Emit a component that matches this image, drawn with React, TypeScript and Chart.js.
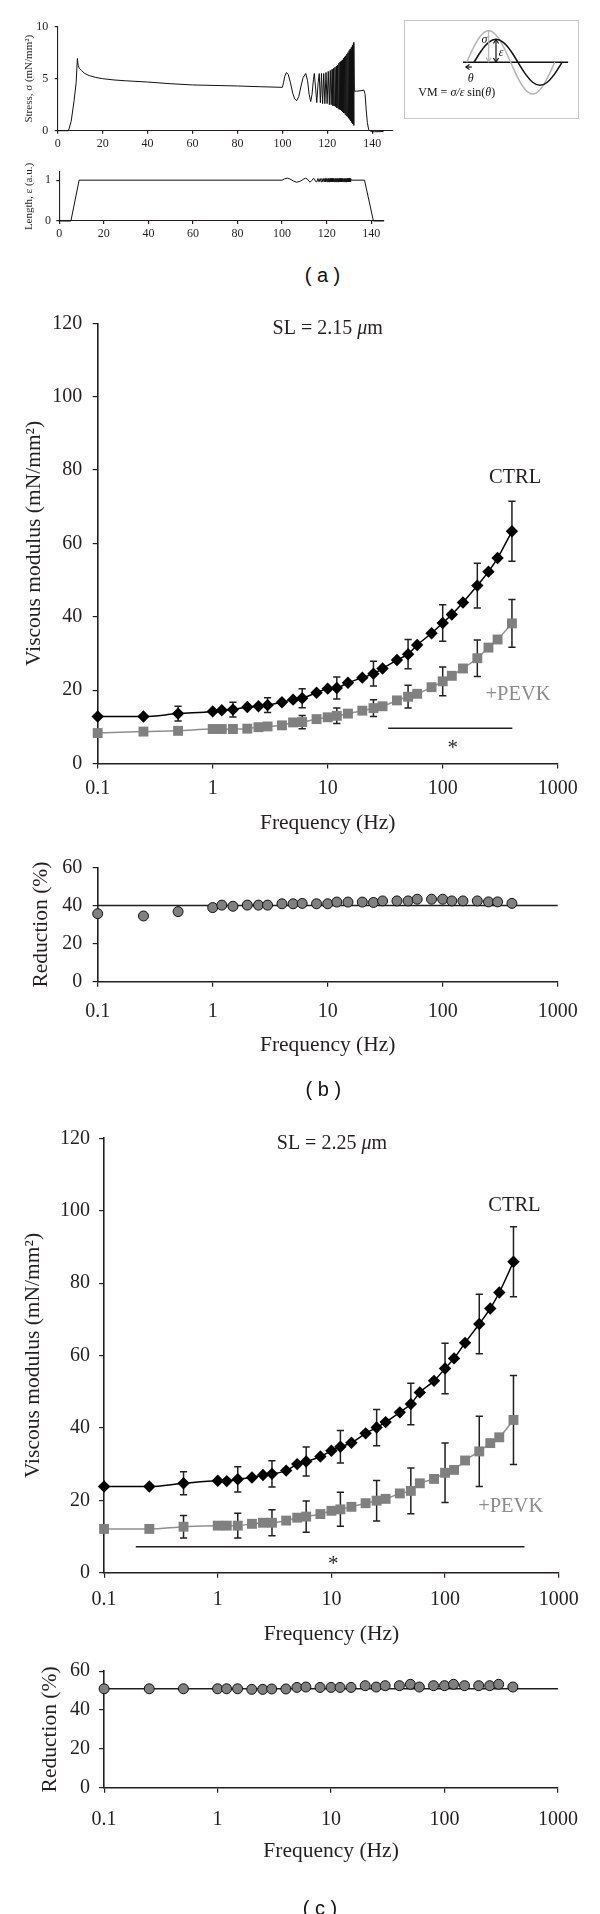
import React, { useEffect, useRef } from "react";
import { Chart, registerables } from "chart.js";

Chart.register(...registerables);

const SERIF = '"Liberation Serif", "Times New Roman", Times, serif';
const SANS = '"Liberation Sans", Arial, Helvetica, sans-serif';
const INK = "#231f20";
const MARK_GRAY = "#808080";
const LINE_GRAY = "#8f8f8f";
const TEXT_GRAY = "#8c8c8c";

// ---------------- DATA: panel (a) ----------------
const stressTime = [
  0, 4.8, 6, 7.3, 8.2, 8.75, 9.1, 9.6, 10.5, 12, 14, 17, 20, 25, 30, 40, 50, 60, 70, 80, 90, 100,
  100.5, 101, 101.8, 102.6, 103.6, 104.6, 105.5, 106.4, 107.3, 108.2, 109.2, 110.4, 111.2, 111.9, 112.6, 113.2, 113.8, 114.2, 114.7, 115.3,
  115.9, 116.4, 116.9, 117.4, 117.9, 118.4, 118.9, 119.4, 119.9, 120.4, 120.9, 121.3, 121.7, 122.1, 122.5, 122.8, 123.1, 123.4, 123.7, 124.0, 124.3, 124.6, 124.9,
  125.15, 125.4, 125.65, 125.9, 126.15, 126.4, 126.65, 126.9, 127.15, 127.4, 127.65, 127.9, 128.15, 128.4, 128.65, 128.9, 129.15, 129.4, 129.65, 129.9, 130.15, 130.4, 130.65, 130.9, 131.15, 131.4, 131.6, 131.75, 131.85,
  132.0, 133, 135, 136.3, 136.8, 137.3, 137.8, 138.4, 139.2, 141, 145,
];
const stressValue = [
  0, 0, 0.9, 2.9, 4.6, 6.95, 6.3, 6.0, 5.8, 5.5, 5.3, 5.12, 5.0, 4.88, 4.8, 4.68, 4.52, 4.4, 4.35, 4.3, 4.23, 4.17,
  4.6, 5.2, 5.6, 5.4, 4.6, 3.6, 3.05, 2.9, 3.3, 4.2, 5.1, 5.5, 4.8, 3.5, 2.8, 3.5, 4.9, 5.5, 4.3, 2.7,
  4.6, 5.5, 2.7, 5.5, 2.6, 5.5, 2.6, 5.6, 2.6, 5.7, 2.5, 5.8, 2.5, 5.9, 2.4, 6.0, 2.4, 6.1, 2.3, 6.2, 2.2, 6.3, 2.1,
  6.5, 2.05, 6.6, 2.0, 6.7, 1.9, 6.8, 1.8, 6.95, 1.7, 7.1, 1.55, 7.2, 1.45, 7.35, 1.35, 7.5, 1.2, 7.7, 1.1, 7.85, 0.95, 8.0, 0.8, 8.2, 0.65, 8.4, 0.5, 8.5,
  3.8, 3.8, 3.85, 3.9, 3.5, 2.0, 0.8, 0.1, -0.05, -0.1, -0.08,
];
const stressTimeTicks = [0, 20, 40, 60, 80, 100, 120, 140];
const stressTicks = [0, 5, 10];

const lengthTime = [
  0, 5.2, 8.9, 100, 101, 102.3, 103.5, 105, 106.5, 108, 109.5, 110.5, 111.3, 112, 112.6, 113.3, 114, 114.5, 115, 115.6,
  116.1, 116.6, 117.1, 117.5, 117.9, 118.3, 118.7, 119.0, 119.3, 119.6, 119.9, 120.2, 120.5,
  120.7, 120.9, 121.1, 121.3, 121.5, 121.7, 121.9, 122.1, 122.3, 122.5, 122.7, 122.9, 123.1, 123.3, 123.5, 123.7, 123.9, 124.1, 124.3, 124.5,
  124.7, 124.9, 125.1, 125.3, 125.5, 125.7, 125.9, 126.1, 126.3, 126.5, 126.7, 126.9, 127.1, 127.3, 127.5, 127.7, 127.9, 128.1, 128.3, 128.5,
  128.7, 128.9, 129.1, 129.3, 129.5, 129.7, 129.9, 130.1, 130.3, 130.5, 130.7, 130.9,
  131.1, 137, 141, 145.7,
];
const lengthValue = [
  0, 0, 1, 1, 1.03, 1.05, 1.03, 0.98, 0.95, 0.97, 1.02, 1.05, 1.03, 0.98, 0.95, 0.99, 1.04, 1.03, 0.97, 0.96,
  1.04, 0.96, 1.04, 0.96, 1.04, 0.96, 1.04, 0.96, 1.04, 0.96, 1.04, 0.96, 1.04,
  0.96, 1.04, 0.96, 1.04, 0.96, 1.04, 0.96, 1.04, 0.96, 1.04, 0.96, 1.04, 0.96, 1.04, 0.96, 1.04, 0.96, 1.04, 0.96, 1.04,
  0.96, 1.04, 0.96, 1.04, 0.96, 1.04, 0.96, 1.04, 0.96, 1.04, 0.96, 1.04, 0.96, 1.04, 0.96, 1.04, 0.96, 1.04, 0.96, 1.04,
  0.96, 1.04, 0.96, 1.04, 0.96, 1.04, 0.96, 1.04, 0.96, 1.04, 0.96, 1.04,
  1, 1, 0, 0,
];
const lengthTicks = [0, 1];

// inset schematic (phase in degrees, relative amplitude)
const insetStrainPhase = [0, 30, 60, 90, 120, 150, 180, 210, 240, 270, 300, 330, 360];
const insetStrain = [0, 0.365, 0.632, 0.73, 0.632, 0.365, 0, -0.365, -0.632, -0.73, -0.632, -0.365, 0];
const insetStressPhase = [-30, 0, 30, 60, 90, 120, 150, 180, 210, 240, 270, 300, 330];
const insetStress = [0, 0.5, 0.866, 1, 0.866, 0.5, 0, -0.5, -0.866, -1, -0.866, -0.5, 0];
const insetAxisPhase = [-45, 385];

// ---------------- DATA: panels (b) and (c) ----------------
const frequencyHz = [0.1, 0.25, 0.5, 1, 1.2, 1.5, 2, 2.5, 3, 4, 5, 6, 8, 10, 12, 15, 20, 25, 30, 40, 50, 60, 80, 100, 120, 150, 200, 250, 300, 400];
const frequencyTicks = [0.1, 1, 10, 100, 1000];
const modulusTicks = [0, 20, 40, 60, 80, 100, 120];
const reductionTicks = [0, 20, 40, 60];

// SL = 2.15 um
const ctrl215 = [12.8, 12.8, 13.6, 14.2, 14.5, 14.7, 15.4, 15.6, 15.9, 16.7, 17.4, 17.8, 19.3, 20.4, 20.6, 22.0, 23.4, 24.5, 25.9, 28.2, 29.8, 32.3, 35.5, 38.3, 40.6, 43.9, 48.5, 52.3, 56.0, 63.3];
const ctrl215Err = [0, 0, 2.0, 0, 0, 2.0, 0, 0, 2.0, 0, 0, 2.6, 0, 0, 3.0, 0, 0, 3.4, 0, 0, 4.0, 0, 0, 5.0, 0, 0, 6.1, 0, 0, 8.2];
const pevk215 = [8.3, 8.7, 8.9, 9.4, 9.4, 9.4, 9.5, 9.9, 10.1, 10.4, 11.2, 11.3, 12.1, 12.6, 13.0, 13.6, 14.4, 15.1, 15.6, 17.2, 18.2, 19.0, 20.8, 22.4, 23.9, 25.9, 28.7, 31.6, 33.8, 38.2];
const pevk215Err = [0, 0, 0.8, 0, 0, 1.0, 0, 0, 1.0, 0, 0, 1.8, 0, 0, 2.1, 0, 0, 2.3, 0, 0, 3.1, 0, 0, 3.9, 0, 0, 5.0, 0, 0, 6.5];
const reduction215 = [35.7, 34.5, 36.8, 38.9, 40.2, 39.6, 40.2, 40.2, 40.2, 40.9, 40.9, 41.1, 40.9, 40.9, 41.8, 41.8, 41.8, 41.6, 42.4, 42.4, 42.4, 43.3, 43.3, 43.3, 42.4, 42.4, 42.4, 41.9, 41.9, 41.1];
const reductionMean215 = 40;
const sigSpan215 = [33.6, 403];
const sigLevel215 = 9.6;

// SL = 2.25 um
const ctrl225 = [23.8, 23.8, 24.7, 25.4, 25.3, 25.8, 26.3, 27.0, 27.3, 28.2, 30.0, 30.7, 32.1, 33.7, 34.8, 35.9, 38.5, 40.1, 41.6, 44.3, 46.6, 49.8, 53.0, 56.4, 59.2, 63.5, 68.7, 73.0, 77.4, 85.9];
const ctrl225Err = [0, 0, 3.2, 0, 0, 3.5, 0, 0, 3.6, 0, 0, 4.0, 0, 0, 4.5, 0, 0, 5.0, 0, 0, 5.7, 0, 0, 7.0, 0, 0, 8.2, 0, 0, 9.7];
const pevk225 = [12.1, 12.1, 12.7, 13.0, 13.0, 13.0, 13.5, 13.8, 13.8, 14.4, 15.2, 15.5, 16.2, 17.1, 17.5, 18.2, 19.2, 19.9, 20.4, 21.9, 22.6, 24.7, 25.9, 27.6, 28.4, 31.0, 33.5, 35.8, 37.4, 42.2];
const pevk225Err = [0, 0, 3.1, 0, 0, 3.4, 0, 0, 3.6, 0, 0, 4.3, 0, 0, 4.7, 0, 0, 5.6, 0, 0, 6.3, 0, 0, 8.2, 0, 0, 9.7, 0, 0, 12.3];
const reduction225 = [50.9, 50.9, 50.9, 50.9, 50.9, 50.9, 50.6, 50.6, 50.8, 50.8, 51.6, 51.8, 51.6, 51.6, 51.6, 51.6, 52.5, 51.8, 52.5, 52.5, 53.2, 51.8, 52.5, 52.5, 53.2, 52.5, 52.5, 52.5, 53.2, 51.8];
const reductionMean225 = 50.9;
const sigSpan225 = [0.19, 500];
const sigLevel225 = 7.2;

// ---------------- helpers ----------------
type Geo = {
  top: number; height: number; L: number; R: number; T: number; B: number;
  yPad: number; xPad: number; yTitlePad: number; xTitlePad: number;
  tickLen: number; tickSize: number; titleSize: number; borderW: number;
};

type Seg = { t: string; italic?: boolean };
type Note = { x: number; y: number; segs: Seg[]; size: number; color: string; dy?: number; align?: "left" | "center" };

function makeAxis(g: Geo, dir: "x" | "y", o: { type: string; min: number; max: number; ticks: number[]; title?: string }) {
  const isX = dir === "x";
  return {
    type: o.type,
    min: o.min,
    max: o.max,
    afterBuildTicks: (s: any) => {
      s.ticks = o.ticks.map((v) => ({ value: v }));
    },
    afterFit: (s: any) => {
      if (isX) s.height = g.top + g.height - g.B;
      else s.width = g.L;
    },
    ticks: {
      autoSkip: false,
      maxRotation: 0,
      minRotation: 0,
      padding: isX ? g.xPad : g.yPad,
      color: INK,
      font: { family: SERIF, size: g.tickSize, lineHeight: 1.2 },
      callback: (v: any) => String(v),
    },
    grid: { display: true, drawOnChartArea: false, drawTicks: true, tickLength: g.tickLen, color: INK, lineWidth: 1.2 },
    border: { display: true, color: INK, width: g.borderW },
    title: {
      display: !!o.title,
      text: o.title || "",
      color: INK,
      font: { family: SERIF, size: g.titleSize, lineHeight: 1.2 },
      padding: isX ? { top: 0, bottom: g.xTitlePad } : { top: g.yTitlePad, bottom: 0 },
    },
  };
}

function baseOptions(g: Geo, scales: any) {
  return {
    animation: false,
    responsive: false,
    maintainAspectRatio: false,
    events: [],
    layout: { padding: { left: 0, right: 600 - g.R, top: g.T - g.top, bottom: 0 } },
    plugins: { legend: { display: false }, tooltip: { enabled: false }, title: { display: false } },
    scales,
  };
}

function drawSegs(ctx: any, segs: Seg[], size: number, x: number, y: number, align: "left" | "center") {
  const fonts = segs.map((s) => `${s.italic ? "italic " : ""}${size}px ${SERIF}`);
  let total = 0;
  segs.forEach((s, i) => {
    ctx.font = fonts[i];
    total += ctx.measureText(s.t).width;
  });
  let cx = align === "left" ? x : x - total / 2;
  ctx.textAlign = "left";
  ctx.textBaseline = "middle";
  segs.forEach((s, i) => {
    ctx.font = fonts[i];
    ctx.fillText(s.t, cx, y);
    cx += ctx.measureText(s.t).width;
  });
}

function notesPlugin(id: string, notes: Note[]) {
  return {
    id,
    afterDatasetsDraw(chart: any) {
      const { ctx, scales } = chart;
      ctx.save();
      for (const n of notes) {
        ctx.fillStyle = n.color;
        const px = scales.x.getPixelForValue(n.x);
        const py = scales.y.getPixelForValue(n.y) + (n.dy || 0);
        drawSegs(ctx, n.segs, n.size, px, py, n.align || "center");
      }
      ctx.restore();
    },
  };
}

function errorBarsPlugin(id: string, xs: number[], sets: { y: number[]; e: number[] }[]) {
  return {
    id,
    beforeDatasetsDraw(chart: any) {
      const { ctx, scales } = chart;
      ctx.save();
      ctx.strokeStyle = INK;
      ctx.lineWidth = 1.5;
      const cap = 3.6;
      sets.forEach((s) =>
        s.e.forEach((e, i) => {
          if (!e) return;
          const px = scales.x.getPixelForValue(xs[i]);
          const y1 = scales.y.getPixelForValue(s.y[i] + e);
          const y2 = scales.y.getPixelForValue(s.y[i] - e);
          ctx.beginPath();
          ctx.moveTo(px, y1);
          ctx.lineTo(px, y2);
          ctx.moveTo(px - cap, y1);
          ctx.lineTo(px + cap, y1);
          ctx.moveTo(px - cap, y2);
          ctx.lineTo(px + cap, y2);
          ctx.stroke();
        })
      );
      ctx.restore();
    },
  };
}

// ---------------- geometry ----------------
const geoStress: Geo = { top: 0, height: 150, L: 57.7, R: 392.5, T: 26.7, B: 130.7, yPad: 6.4, xPad: 3.3, yTitlePad: 22.4, xTitlePad: 0, tickLen: 3, tickSize: 12, titleSize: 11, borderW: 1.1 };
const geoLength: Geo = { top: 150, height: 100, L: 59.3, R: 383.9, T: 172, B: 221, yPad: 5.4, xPad: 3, yTitlePad: 22.4, xTitlePad: 0, tickLen: 3, tickSize: 12, titleSize: 11, borderW: 1.1 };
const geoB1: Geo = { top: 300, height: 555, L: 97.7, R: 557.7, T: 323.3, B: 763.5, yPad: 10.4, xPad: 8.3, yTitlePad: 21.7, xTitlePad: 19.1, tickLen: 5, tickSize: 20, titleSize: 21.5, borderW: 1.6 };
const geoB2: Geo = { top: 845, height: 255, L: 97.7, R: 557.7, T: 864.5, B: 981.7, yPad: 10.4, xPad: 13, yTitlePad: 28.1, xTitlePad: 42.1, tickLen: 5, tickSize: 20, titleSize: 21.5, borderW: 1.6 };
const geoC1: Geo = { top: 1100, height: 550, L: 104.1, R: 558.7, T: 1138.3, B: 1572.7, yPad: 9.1, xPad: 9.6, yTitlePad: 20.6, xTitlePad: 3.1, tickLen: 5, tickSize: 20, titleSize: 21.5, borderW: 1.6 };
const geoC2: Geo = { top: 1650, height: 264, L: 104.1, R: 558, T: 1670.7, B: 1787.7, yPad: 9.1, xPad: 14.6, yTitlePad: 37.8, xTitlePad: 50.1, tickLen: 5, tickSize: 20, titleSize: 21.5, borderW: 1.6 };

// ---------------- chart configs ----------------
function traceConfig(g: Geo, xs: number[], ys: number[], xMax: number, yMax: number, yTicks: number[], title: string, xTicks: number[]) {
  return {
    type: "line",
    data: {
      datasets: [
        {
          data: xs.map((x, i) => ({ x, y: ys[i] })),
          borderColor: "#111",
          borderWidth: 1,
          pointRadius: 0,
          tension: 0,
          borderJoinStyle: "bevel",
          clip: false,
        },
      ],
    },
    options: baseOptions(g, {
      x: makeAxis(g, "x", { type: "linear", min: 0, max: xMax, ticks: xTicks }),
      y: makeAxis(g, "y", { type: "linear", min: 0, max: yMax, ticks: yTicks, title }),
    }),
  };
}

function modulusConfig(g: Geo, ctrl: number[], ctrlErr: number[], pevk: number[], pevkErr: number[], sigSpan: number[], sigLevel: number, notes: Note[]) {
  return {
    type: "line",
    data: {
      datasets: [
        {
          data: frequencyHz.map((x, i) => ({ x, y: ctrl[i] })),
          borderColor: "#000",
          backgroundColor: "#000",
          borderWidth: 1.5,
          pointStyle: "rectRot",
          pointRadius: 6.2,
          pointBorderWidth: 0,
          cubicInterpolationMode: "monotone",
          clip: false,
        },
        {
          data: frequencyHz.map((x, i) => ({ x, y: pevk[i] })),
          borderColor: LINE_GRAY,
          backgroundColor: MARK_GRAY,
          pointBorderColor: MARK_GRAY,
          borderWidth: 1.5,
          pointStyle: "rect",
          pointRadius: 7,
          pointBorderWidth: 0,
          cubicInterpolationMode: "monotone",
          clip: false,
        },
        {
          data: sigSpan.map((x) => ({ x, y: sigLevel })),
          borderColor: INK,
          borderWidth: 1.5,
          pointRadius: 0,
          clip: false,
        },
      ],
    },
    options: baseOptions(g, {
      x: makeAxis(g, "x", { type: "logarithmic", min: 0.1, max: 1000, ticks: frequencyTicks, title: "Frequency (Hz)" }),
      y: makeAxis(g, "y", { type: "linear", min: 0, max: 120, ticks: modulusTicks, title: "Viscous modulus (mN/mm²)" }),
    }),
    plugins: [
      errorBarsPlugin("errs", frequencyHz, [
        { y: pevk, e: pevkErr },
        { y: ctrl, e: ctrlErr },
      ]),
      notesPlugin("notes", notes),
    ],
  };
}

function reductionConfig(g: Geo, values: number[], mean: number) {
  return {
    type: "line",
    data: {
      datasets: [
        {
          data: frequencyHz.map((x, i) => ({ x, y: values[i] })),
          showLine: false,
          pointStyle: "circle",
          pointRadius: 5,
          backgroundColor: MARK_GRAY,
          pointBackgroundColor: MARK_GRAY,
          pointBorderColor: "#111",
          pointBorderWidth: 1,
          clip: false,
        },
        {
          data: [0.1, 1000].map((x) => ({ x, y: mean })),
          borderColor: INK,
          borderWidth: 1.5,
          pointRadius: 0,
          clip: false,
        },
      ],
    },
    options: baseOptions(g, {
      x: makeAxis(g, "x", { type: "logarithmic", min: 0.1, max: 1000, ticks: frequencyTicks, title: "Frequency (Hz)" }),
      y: makeAxis(g, "y", { type: "linear", min: 0, max: 60, ticks: reductionTicks, title: "Reduction (%)" }),
    }),
  };
}

const insetPlugin = {
  id: "insetMarks",
  afterDatasetsDraw(chart: any) {
    const { ctx, scales } = chart;
    const X = (v: number) => scales.x.getPixelForValue(v);
    const Y = (v: number) => scales.y.getPixelForValue(v);
    const head = (x: number, y: number, dir: number) => {
      ctx.beginPath();
      ctx.moveTo(x - 2.6, y - dir * 4);
      ctx.lineTo(x, y);
      ctx.lineTo(x + 2.6, y - dir * 4);
      ctx.stroke();
    };
    ctx.save();
    // stress amplitude (grey)
    ctx.strokeStyle = "#b4b4b4";
    ctx.lineWidth = 1.2;
    ctx.beginPath();
    ctx.moveTo(X(60), Y(1));
    ctx.lineTo(X(60), Y(0.02));
    ctx.stroke();
    head(X(60), Y(0.02), 1);
    // strain amplitude (black)
    ctx.strokeStyle = "#111";
    ctx.beginPath();
    ctx.moveTo(X(90), Y(0.72));
    ctx.lineTo(X(90), Y(0.01));
    ctx.stroke();
    head(X(90), Y(0.01), 1);
    head(X(90), Y(0.72), -1);
    // phase arrow
    ctx.beginPath();
    ctx.moveTo(X(-9), Y(-0.15));
    ctx.lineTo(X(-33), Y(-0.15));
    ctx.stroke();
    ctx.beginPath();
    ctx.moveTo(X(-33) + 3.5, Y(-0.15) - 2.6);
    ctx.lineTo(X(-33), Y(-0.15));
    ctx.lineTo(X(-33) + 3.5, Y(-0.15) + 2.6);
    ctx.stroke();
    ctx.fillStyle = "#111";
    drawSegs(ctx, [{ t: "σ", italic: true }], 12, X(43), Y(0.715), "center");
    drawSegs(ctx, [{ t: "ε", italic: true }], 12, X(110.5), Y(0.285), "center");
    drawSegs(ctx, [{ t: "θ", italic: true }], 12, X(-13), Y(-0.52), "center");
    drawSegs(
      ctx,
      [{ t: "VM = " }, { t: "σ/ε", italic: true }, { t: " sin(" }, { t: "θ", italic: true }, { t: ")" }],
      12,
      X(-228),
      Y(-0.98),
      "left"
    );
    ctx.restore();
  },
};

function insetConfig() {
  return {
    type: "line",
    data: {
      datasets: [
        {
          data: insetStrainPhase.map((x, i) => ({ x, y: insetStrain[i] })),
          borderColor: "#111",
          borderWidth: 1.5,
          pointRadius: 0,
          tension: 0.4,
          clip: false,
        },
        {
          data: insetStressPhase.map((x, i) => ({ x, y: insetStress[i] })),
          borderColor: "#b4b4b4",
          borderWidth: 1.5,
          pointRadius: 0,
          tension: 0.4,
          clip: false,
        },
        {
          data: insetAxisPhase.map((x) => ({ x, y: 0 })),
          borderColor: "#111",
          borderWidth: 1.4,
          pointRadius: 0,
          clip: false,
        },
      ],
    },
    options: {
      animation: false,
      responsive: false,
      maintainAspectRatio: false,
      events: [],
      layout: { padding: 0 },
      plugins: { legend: { display: false }, tooltip: { enabled: false } },
      scales: {
        x: { type: "linear", min: -282.3, max: 425.5, display: false },
        y: { type: "linear", min: -1.763, max: 1.307, display: false },
      },
    },
    plugins: [insetPlugin],
  };
}

// ---------------- components ----------------
function ChartCanvas({ top, height, left = 0, width = 600, build }: { top: number; height: number; left?: number; width?: number; build: () => any }) {
  const ref = useRef<HTMLCanvasElement | null>(null);
  useEffect(() => {
    const chart = new Chart(ref.current as HTMLCanvasElement, build());
    return () => chart.destroy();
  }, []);
  return <canvas ref={ref} width={width} height={height} style={{ position: "absolute", left, top, width, height }} />;
}

function PanelLabel({ text, cx, top }: { text: string; cx: number; top: number }) {
  return (
    <div
      style={{
        position: "absolute",
        left: cx - 50,
        top,
        width: 100,
        textAlign: "center",
        fontFamily: SANS,
        fontSize: 20,
        lineHeight: "20px",
        whiteSpace: "pre",
        color: "#111",
      }}
    >
      {text}
    </div>
  );
}

const notesB: Note[] = [
  { x: 10, y: 118.4, segs: [{ t: "SL = 2.15 " }, { t: "μ", italic: true }, { t: "m" }], size: 20, color: INK },
  { x: 426, y: 77.8, segs: [{ t: "CTRL" }], size: 20.5, color: INK },
  { x: 452, y: 18.7, segs: [{ t: "+PEVK" }], size: 20.5, color: TEXT_GRAY },
  { x: 122, y: 5.0, segs: [{ t: "*" }], size: 21, color: INK, dy: 3 },
];
const notesC: Note[] = [
  { x: 10.1, y: 118.4, segs: [{ t: "SL = 2.25 " }, { t: "μ", italic: true }, { t: "m" }], size: 20, color: INK },
  { x: 408, y: 101.3, segs: [{ t: "CTRL" }], size: 20.5, color: INK },
  { x: 378, y: 18.2, segs: [{ t: "+PEVK" }], size: 20.5, color: TEXT_GRAY },
  { x: 10.4, y: 3.0, segs: [{ t: "*" }], size: 21, color: INK, dy: 3 },
];

export default function App() {
  return (
    <div style={{ position: "absolute", left: 0, top: 0, width: 600, height: 1914, background: "#fff", overflow: "hidden" }}>
      <ChartCanvas
        top={geoStress.top}
        height={geoStress.height}
        build={() => traceConfig(geoStress, stressTime, stressValue, 149, 10, stressTicks, "Stress, σ (mN/mm²)", stressTimeTicks)}
      />
      <ChartCanvas
        top={geoLength.top}
        height={geoLength.height}
        build={() => traceConfig(geoLength, lengthTime, lengthValue, 145.7, 1.2, lengthTicks, "Length, ε (a.u.)", stressTimeTicks)}
      />
      <div
        style={{
          position: "absolute",
          left: 404,
          top: 20,
          width: 175,
          height: 99,
          border: "1.5px solid #c6c6c6",
          boxSizing: "border-box",
        }}
      />
      <ChartCanvas left={405} top={21} width={173} height={97} build={insetConfig} />
      <PanelLabel text="( a )" cx={322.5} top={264.6} />

      <ChartCanvas top={geoB1.top} height={geoB1.height} build={() => modulusConfig(geoB1, ctrl215, ctrl215Err, pevk215, pevk215Err, sigSpan215, sigLevel215, notesB)} />
      <ChartCanvas top={geoB2.top} height={geoB2.height} build={() => reductionConfig(geoB2, reduction215, reductionMean215)} />
      <PanelLabel text="( b )" cx={323.4} top={1079} />

      <ChartCanvas top={geoC1.top} height={geoC1.height} build={() => modulusConfig(geoC1, ctrl225, ctrl225Err, pevk225, pevk225Err, sigSpan225, sigLevel225, notesC)} />
      <ChartCanvas top={geoC2.top} height={geoC2.height} build={() => reductionConfig(geoC2, reduction225, reductionMean225)} />
      <PanelLabel text="( c )" cx={320} top={1898.3} />
    </div>
  );
}
